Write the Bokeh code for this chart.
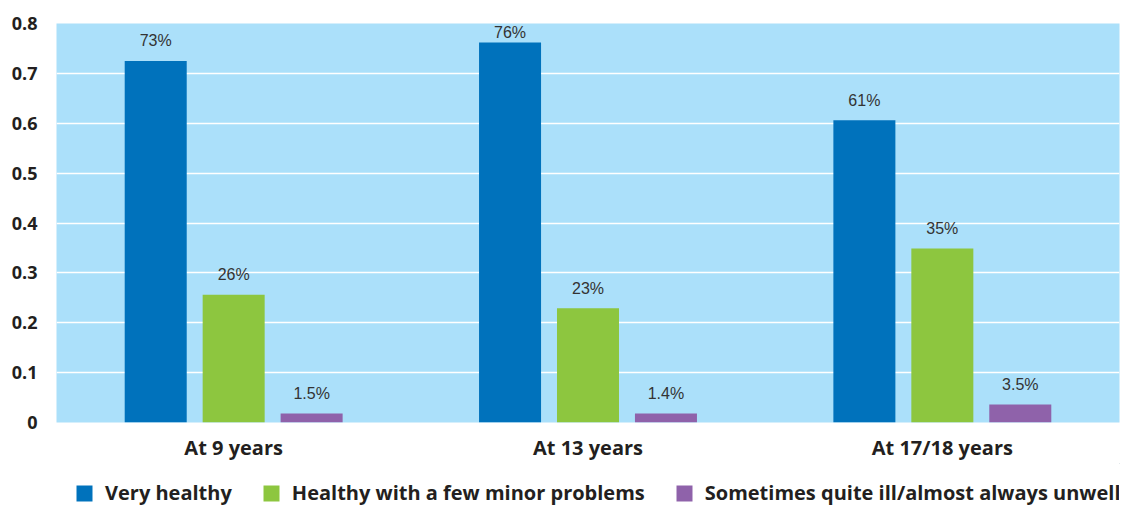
from bokeh.plotting import figure
from bokeh.layouts import column
from bokeh.models import (ColumnDataSource, Legend, LegendItem, SingleIntervalTicker,
                          Range1d)
from bokeh.transform import dodge
from bokeh.core.properties import value
from bokeh.embed import file_html
from bokeh.resources import INLINE

categories = ["At 9 years", "At 13 years", "At 17/18 years"]
very_healthy = [0.725, 0.762, 0.606]
minor_problems = [0.256, 0.229, 0.349]
unwell = [0.018, 0.018, 0.036]
very_healthy_labels = ["73%", "76%", "61%"]
minor_problems_labels = ["26%", "23%", "35%"]
unwell_labels = ["1.5%", "1.4%", "3.5%"]
series_names = ["Very healthy", "Healthy with a few minor problems",
                "Sometimes quite ill/almost always unwell"]
colors = ["#0072BC", "#8DC63F", "#8F62AA"]

Y_MAX = 0.8
LABEL_CAP = 0.742  # keep data labels inside the plot area

src = ColumnDataSource(dict(
    cat=categories,
    v1=very_healthy, v2=minor_problems, v3=unwell,
    l1=very_healthy_labels, l2=minor_problems_labels, l3=unwell_labels,
    y1=[min(v, LABEL_CAP) for v in very_healthy],
    y2=[min(v, LABEL_CAP) for v in minor_problems],
    y3=[min(v, LABEL_CAP) for v in unwell],
))

p = figure(x_range=categories, y_range=(0, Y_MAX), width=1125, height=463,
           output_backend="svg", toolbar_location=None,
           min_border_left=56, min_border_right=6, min_border_top=23,
           min_border_bottom=40)
p.background_fill_color = "#ABE0FA"
p.border_fill_color = "white"
p.outline_line_color = None

offsets = [-0.22, 0.0, 0.22]
for i, (col, lab, ly) in enumerate([("v1", "l1", "y1"), ("v2", "l2", "y2"), ("v3", "l3", "y3")]):
    p.vbar(x=dodge("cat", offsets[i], range=p.x_range), top=col, width=0.175,
           source=src, fill_color=colors[i], line_color=None)
    p.text(x=dodge("cat", offsets[i], range=p.x_range), y=ly, text=lab, source=src,
           text_align="center", text_baseline="alphabetic", y_offset=-20,
           text_font=value("Liberation Sans"), text_font_size="16px",
           text_color="#333333")

p.yaxis.ticker = SingleIntervalTicker(interval=0.1)
p.ygrid.grid_line_color = "white"
p.ygrid.grid_line_width = 1.5
p.xgrid.grid_line_color = None

for ax in (p.xaxis, p.yaxis):
    ax.axis_line_color = None
    ax.major_tick_line_color = None
    ax.minor_tick_line_color = None
    ax.major_tick_out = 0
    ax.major_tick_in = 0
    ax.major_label_text_font = "Open Sans"
    ax.major_label_text_font_style = "bold"
    ax.major_label_text_color = "#231F20"

p.yaxis.major_label_text_font_size = "18px"
p.yaxis.major_label_standoff = 15
p.yaxis.major_label_overrides = {0: "0"}
p.xaxis.major_label_text_font_size = "20px"
p.xaxis.major_label_standoff = 11

# legend strip below the chart
p2 = figure(width=1125, height=43, x_range=Range1d(0, 1), y_range=Range1d(0, 1),
            output_backend="svg", toolbar_location=None,
            x_axis_location=None, y_axis_location=None,
            min_border_left=0, min_border_right=0, min_border_top=0, min_border_bottom=0)
p2.grid.visible = False
p2.outline_line_color = None
p2.background_fill_color = "white"
p2.border_fill_color = "white"
# legend-only renderers: one bar each, placed outside the visible range
dummy = [p2.vbar(x=[5], top=[5], bottom=[4], width=0.5, fill_color=c, line_color=None)
         for c in colors]

lg = Legend(items=[LegendItem(label=series_names[i], renderers=[dummy[i]]) for i in range(3)],
            location=(18, 0), orientation="horizontal",
            glyph_width=20, glyph_height=20, label_standoff=11,
            padding=0, margin=0, spacing=29,
            label_text_font="Open Sans", label_text_font_style="bold",
            label_text_font_size="20px", label_text_color="#231F20",
            border_line_color=None, background_fill_alpha=0)
p2.add_layout(lg, "center")

layout = column(p, p2, spacing=0)
open("out.html", "w").write(file_html(layout, INLINE))
